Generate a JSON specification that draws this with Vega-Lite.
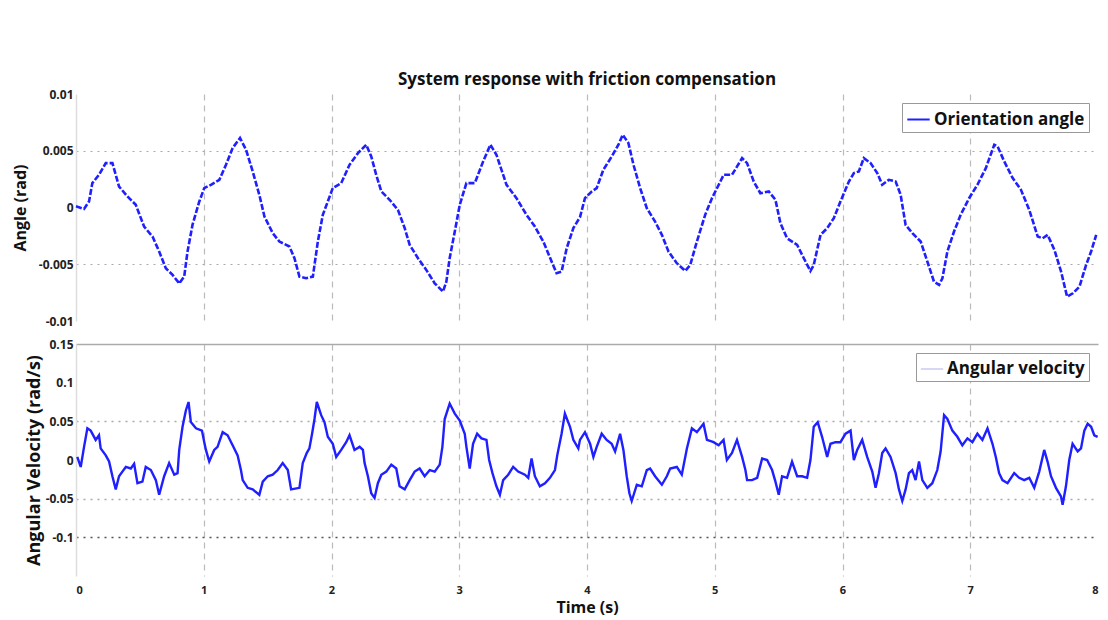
{
  "$schema": "https://vega.github.io/schema/vega-lite/v6.json",
  "background": "white",
  "padding": {"left": 12, "top": 71, "right": 5, "bottom": 2},
  "spacing": 11,
  "config": {
    "font": "Open Sans",
    "view": {"stroke": null},
    "axis": {"labelFont": "Open Sans", "titleFont": "Open Sans", "labelFontWeight": "bold", "titleFontWeight": "bold", "labelColor": "#222", "titleColor": "#111"}
  },
  "datasets": {
    "angle": [
      {"t":0,"v":0.0001},{"t":0.063,"v":-0.00012},{"t":0.102,"v":0.00053},{"t":0.128,"v":0.00215},{"t":0.18,"v":0.00288},{"t":0.233,"v":0.00391},{"t":0.285,"v":0.00391},{"t":0.337,"v":0.00185},{"t":0.403,"v":0.00097},{"t":0.468,"v":0.00024},{"t":0.533,"v":-0.00168},{"t":0.599,"v":-0.00256},{"t":0.651,"v":-0.00388},{"t":0.703,"v":-0.00535},{"t":0.756,"v":-0.00594},{"t":0.808,"v":-0.00668},{"t":0.847,"v":-0.00609},{"t":0.873,"v":-0.00388},{"t":0.912,"v":-0.00153},{"t":0.965,"v":0.00053},{"t":1.004,"v":0.00171},{"t":1.056,"v":0.002},{"t":1.122,"v":0.00244},{"t":1.174,"v":0.00376},{"t":1.226,"v":0.00524},{"t":1.284,"v":0.00612},{"t":1.331,"v":0.00509},{"t":1.383,"v":0.00318},{"t":1.435,"v":0.00112},{"t":1.475,"v":-0.00079},{"t":1.54,"v":-0.00226},{"t":1.592,"v":-0.003},{"t":1.671,"v":-0.00344},{"t":1.71,"v":-0.00447},{"t":1.749,"v":-0.00609},{"t":1.801,"v":-0.00623},{"t":1.854,"v":-0.00609},{"t":1.893,"v":-0.003},{"t":1.932,"v":-0.00065},{"t":1.971,"v":0.00053},{"t":2.01,"v":0.00171},{"t":2.076,"v":0.00215},{"t":2.141,"v":0.00376},{"t":2.207,"v":0.00479},{"t":2.272,"v":0.00553},{"t":2.311,"v":0.0045},{"t":2.35,"v":0.00288},{"t":2.39,"v":0.00141},{"t":2.455,"v":0.00068},{"t":2.52,"v":-0.00021},{"t":2.573,"v":-0.00182},{"t":2.612,"v":-0.00329},{"t":2.677,"v":-0.00447},{"t":2.742,"v":-0.0055},{"t":2.808,"v":-0.00668},{"t":2.873,"v":-0.00741},{"t":2.899,"v":-0.00653},{"t":2.925,"v":-0.00447},{"t":2.965,"v":-0.00212},{"t":3.004,"v":0.00024},{"t":3.056,"v":0.00215},{"t":3.122,"v":0.00215},{"t":3.187,"v":0.00406},{"t":3.244,"v":0.00553},{"t":3.291,"v":0.00465},{"t":3.37,"v":0.002},{"t":3.448,"v":0.00082},{"t":3.527,"v":-0.00065},{"t":3.592,"v":-0.00168},{"t":3.658,"v":-0.003},{"t":3.723,"v":-0.00476},{"t":3.762,"v":-0.00579},{"t":3.801,"v":-0.00565},{"t":3.841,"v":-0.00359},{"t":3.893,"v":-0.00182},{"t":3.945,"v":-0.00085},{"t":3.984,"v":0.00082},{"t":4.037,"v":0.00141},{"t":4.076,"v":0.00171},{"t":4.128,"v":0.00332},{"t":4.194,"v":0.0045},{"t":4.246,"v":0.00553},{"t":4.28,"v":0.00641},{"t":4.324,"v":0.00568},{"t":4.364,"v":0.00376},{"t":4.416,"v":0.00171},{"t":4.468,"v":-0.00006},{"t":4.533,"v":-0.00124},{"t":4.586,"v":-0.00241},{"t":4.638,"v":-0.00388},{"t":4.703,"v":-0.00491},{"t":4.769,"v":-0.00559},{"t":4.808,"v":-0.00506},{"t":4.86,"v":-0.003},{"t":4.925,"v":-0.00065},{"t":4.978,"v":0.00082},{"t":5.044,"v":0.00229},{"t":5.07,"v":0.00288},{"t":5.135,"v":0.00288},{"t":5.175,"v":0.00362},{"t":5.214,"v":0.00435},{"t":5.253,"v":0.00391},{"t":5.305,"v":0.00229},{"t":5.357,"v":0.00126},{"t":5.423,"v":0.00141},{"t":5.475,"v":0.00068},{"t":5.514,"v":-0.00138},{"t":5.566,"v":-0.00271},{"t":5.645,"v":-0.00329},{"t":5.697,"v":-0.00447},{"t":5.749,"v":-0.00559},{"t":5.775,"v":-0.00506},{"t":5.828,"v":-0.00241},{"t":5.88,"v":-0.00182},{"t":5.932,"v":-0.00094},{"t":5.984,"v":0.00053},{"t":6.05,"v":0.00229},{"t":6.089,"v":0.00303},{"t":6.128,"v":0.00318},{"t":6.167,"v":0.00435},{"t":6.22,"v":0.00391},{"t":6.272,"v":0.00303},{"t":6.311,"v":0.002},{"t":6.363,"v":0.00244},{"t":6.416,"v":0.00229},{"t":6.455,"v":0.00112},{"t":6.494,"v":-0.00153},{"t":6.547,"v":-0.00226},{"t":6.612,"v":-0.003},{"t":6.664,"v":-0.00476},{"t":6.716,"v":-0.00653},{"t":6.756,"v":-0.00682},{"t":6.782,"v":-0.00623},{"t":6.821,"v":-0.00388},{"t":6.873,"v":-0.00212},{"t":6.925,"v":-0.00065},{"t":6.991,"v":0.00082},{"t":7.056,"v":0.002},{"t":7.122,"v":0.00347},{"t":7.188,"v":0.00553},{"t":7.214,"v":0.00538},{"t":7.266,"v":0.00406},{"t":7.332,"v":0.00259},{"t":7.397,"v":0.00156},{"t":7.462,"v":-0.00021},{"t":7.528,"v":-0.00256},{"t":7.567,"v":-0.00271},{"t":7.606,"v":-0.00241},{"t":7.659,"v":-0.00374},{"t":7.711,"v":-0.00565},{"t":7.758,"v":-0.00785},{"t":7.803,"v":-0.00756},{"t":7.855,"v":-0.00697},{"t":7.907,"v":-0.00506},{"t":7.946,"v":-0.00388},{"t":7.986,"v":-0.00241}
    ],
    "vel": [
      {"t":0.01,"v":0.004},{"t":0.037,"v":-0.009},{"t":0.063,"v":0.017},{"t":0.089,"v":0.041},{"t":0.115,"v":0.038},{"t":0.154,"v":0.026},{"t":0.18,"v":0.032},{"t":0.193,"v":0.015},{"t":0.233,"v":0.006},{"t":0.259,"v":-0.002},{"t":0.285,"v":-0.021},{"t":0.311,"v":-0.038},{"t":0.337,"v":-0.021},{"t":0.363,"v":-0.015},{"t":0.39,"v":-0.009},{"t":0.429,"v":-0.011},{"t":0.455,"v":-0.005},{"t":0.481,"v":-0.03},{"t":0.52,"v":-0.028},{"t":0.546,"v":-0.009},{"t":0.586,"v":-0.013},{"t":0.625,"v":-0.026},{"t":0.651,"v":-0.045},{"t":0.69,"v":-0.021},{"t":0.729,"v":-0.004},{"t":0.769,"v":-0.019},{"t":0.795,"v":-0.017},{"t":0.808,"v":0.013},{"t":0.834,"v":0.043},{"t":0.86,"v":0.064},{"t":0.881,"v":0.075},{"t":0.899,"v":0.049},{"t":0.939,"v":0.041},{"t":0.986,"v":0.038},{"t":1.004,"v":0.023},{"t":1.017,"v":0.013},{"t":1.043,"v":-0.002},{"t":1.082,"v":0.013},{"t":1.108,"v":0.017},{"t":1.148,"v":0.036},{"t":1.187,"v":0.032},{"t":1.226,"v":0.019},{"t":1.265,"v":0.006},{"t":1.291,"v":-0.013},{"t":1.305,"v":-0.026},{"t":1.344,"v":-0.036},{"t":1.383,"v":-0.038},{"t":1.435,"v":-0.045},{"t":1.462,"v":-0.028},{"t":1.501,"v":-0.021},{"t":1.54,"v":-0.019},{"t":1.579,"v":-0.013},{"t":1.618,"v":-0.004},{"t":1.658,"v":-0.013},{"t":1.684,"v":-0.038},{"t":1.749,"v":-0.036},{"t":1.775,"v":-0.004},{"t":1.806,"v":0.009},{"t":1.827,"v":0.015},{"t":1.848,"v":0.034},{"t":1.867,"v":0.053},{"t":1.885,"v":0.075},{"t":1.919,"v":0.058},{"t":1.945,"v":0.049},{"t":1.971,"v":0.03},{"t":2.01,"v":0.021},{"t":2.037,"v":0.004},{"t":2.076,"v":0.013},{"t":2.115,"v":0.023},{"t":2.141,"v":0.032},{"t":2.18,"v":0.013},{"t":2.22,"v":0.017},{"t":2.246,"v":0.013},{"t":2.259,"v":-0.004},{"t":2.285,"v":-0.021},{"t":2.311,"v":-0.043},{"t":2.337,"v":-0.049},{"t":2.363,"v":-0.03},{"t":2.39,"v":-0.019},{"t":2.429,"v":-0.015},{"t":2.468,"v":-0.006},{"t":2.507,"v":-0.011},{"t":2.533,"v":-0.034},{"t":2.573,"v":-0.038},{"t":2.612,"v":-0.026},{"t":2.651,"v":-0.015},{"t":2.69,"v":-0.011},{"t":2.729,"v":-0.021},{"t":2.769,"v":-0.013},{"t":2.808,"v":-0.015},{"t":2.847,"v":-0.006},{"t":2.868,"v":0.017},{"t":2.886,"v":0.053},{"t":2.925,"v":0.073},{"t":2.965,"v":0.06},{"t":3.004,"v":0.051},{"t":3.043,"v":0.034},{"t":3.056,"v":0.017},{"t":3.082,"v":-0.011},{"t":3.108,"v":0.021},{"t":3.14,"v":0.034},{"t":3.174,"v":0.028},{"t":3.213,"v":0.026},{"t":3.234,"v":0},{"t":3.26,"v":-0.017},{"t":3.291,"v":-0.034},{"t":3.318,"v":-0.045},{"t":3.344,"v":-0.026},{"t":3.383,"v":-0.019},{"t":3.422,"v":-0.009},{"t":3.461,"v":-0.015},{"t":3.514,"v":-0.019},{"t":3.54,"v":-0.023},{"t":3.566,"v":0.002},{"t":3.592,"v":-0.021},{"t":3.631,"v":-0.034},{"t":3.671,"v":-0.03},{"t":3.71,"v":-0.023},{"t":3.749,"v":-0.013},{"t":3.767,"v":0.006},{"t":3.801,"v":0.034},{"t":3.827,"v":0.06},{"t":3.867,"v":0.043},{"t":3.893,"v":0.026},{"t":3.932,"v":0.015},
      {"t":3.945,"v":0.026},{"t":3.984,"v":0.036},{"t":4.024,"v":0.021},{"t":4.05,"v":0.004},{"t":4.076,"v":0.017},{"t":4.115,"v":0.034},{"t":4.154,"v":0.026},{"t":4.193,"v":0.021},{"t":4.22,"v":0.011},{"t":4.259,"v":0.034},{"t":4.285,"v":0.013},{"t":4.311,"v":-0.021},{"t":4.332,"v":-0.043},{"t":4.35,"v":-0.053},{"t":4.39,"v":-0.032},{"t":4.429,"v":-0.034},{"t":4.468,"v":-0.013},{"t":4.494,"v":-0.011},{"t":4.533,"v":-0.021},{"t":4.586,"v":-0.032},{"t":4.625,"v":-0.021},{"t":4.651,"v":-0.011},{"t":4.703,"v":-0.009},{"t":4.742,"v":-0.019},{"t":4.782,"v":0.015},{"t":4.821,"v":0.041},{"t":4.86,"v":0.036},{"t":4.912,"v":0.047},{"t":4.939,"v":0.026},{"t":4.991,"v":0.023},{"t":5.03,"v":0.019},{"t":5.069,"v":0.026},{"t":5.095,"v":0},{"t":5.135,"v":0.009},{"t":5.174,"v":0.026},{"t":5.214,"v":0.004},{"t":5.24,"v":-0.013},{"t":5.253,"v":-0.026},{"t":5.292,"v":-0.026},{"t":5.332,"v":-0.023},{"t":5.371,"v":0.002},{"t":5.41,"v":0},{"t":5.449,"v":-0.013},{"t":5.475,"v":-0.028},{"t":5.501,"v":-0.045},{"t":5.527,"v":-0.021},{"t":5.566,"v":-0.023},{"t":5.605,"v":-0.002},{"t":5.645,"v":-0.021},{"t":5.684,"v":-0.021},{"t":5.723,"v":-0.023},{"t":5.749,"v":0},{"t":5.775,"v":0.043},{"t":5.806,"v":0.049},{"t":5.84,"v":0.03},{"t":5.88,"v":0.004},{"t":5.906,"v":0.021},{"t":5.945,"v":0.023},{"t":5.984,"v":0.023},{"t":6.024,"v":0.034},{"t":6.063,"v":0.038},{"t":6.089,"v":0},{"t":6.115,"v":0.013},{"t":6.154,"v":0.026},{"t":6.193,"v":0.004},{"t":6.233,"v":-0.015},{"t":6.259,"v":-0.036},{"t":6.285,"v":-0.017},{"t":6.311,"v":0.009},{"t":6.337,"v":0.015},{"t":6.376,"v":0.004},{"t":6.416,"v":-0.017},{"t":6.442,"v":-0.038},{"t":6.468,"v":-0.053},{"t":6.494,"v":-0.038},{"t":6.52,"v":-0.017},{"t":6.546,"v":-0.013},{"t":6.572,"v":-0.026},{"t":6.599,"v":-0.002},{"t":6.625,"v":-0.026},{"t":6.664,"v":-0.036},{"t":6.703,"v":-0.03},{"t":6.742,"v":-0.013},{"t":6.768,"v":0.011},{"t":6.795,"v":0.058},{"t":6.821,"v":0.053},{"t":6.86,"v":0.038},{"t":6.899,"v":0.03},{"t":6.938,"v":0.019},{"t":6.978,"v":0.028},{"t":7.017,"v":0.023},{"t":7.056,"v":0.034},{"t":7.095,"v":0.026},{"t":7.135,"v":0.041},{"t":7.174,"v":0.021},{"t":7.2,"v":0.004},{"t":7.226,"v":-0.017},{"t":7.252,"v":-0.026},{"t":7.292,"v":-0.03},{"t":7.344,"v":-0.017},{"t":7.383,"v":-0.023},{"t":7.422,"v":-0.026},{"t":7.462,"v":-0.023},{"t":7.501,"v":-0.036},{"t":7.54,"v":-0.015},{"t":7.579,"v":0.013},{"t":7.605,"v":-0.002},{"t":7.632,"v":-0.021},{"t":7.671,"v":-0.036},{"t":7.71,"v":-0.047},{"t":7.723,"v":-0.058},{"t":7.749,"v":-0.034},{"t":7.775,"v":0},{"t":7.801,"v":0.021},{"t":7.841,"v":0.011},{"t":7.867,"v":0.015},{"t":7.893,"v":0.038},{"t":7.919,"v":0.047},{"t":7.946,"v":0.043},{"t":7.971,"v":0.032},{"t":7.997,"v":0.03}
    ]
  },
  "vconcat": [
    {
      "width": 1022,
      "height": 227,
      "title": {"text": "System response with friction compensation", "fontSize": 17, "fontWeight": "bold", "font": "Open Sans", "color": "#111", "frame": "group", "anchor": "middle", "offset": -1},
      "data": {"name": "angle"},
      "transform": [{"calculate": "'Orientation angle'", "as": "series"}],
      "mark": {"type": "line", "strokeWidth": 2.6, "strokeDash": [6, 2]},
      "encoding": {
        "x": {"field": "t", "type": "quantitative", "scale": {"domain": [0, 8], "nice": false},
          "axis": {"title": null, "labels": false, "ticks": false, "domain": false, "values": [1,2,3,4,5,6,7], "grid": true, "gridColor": "#bbb", "gridDash": [6, 5], "gridWidth": 1.2}},
        "y": {"field": "v", "type": "quantitative", "scale": {"domain": [-0.01, 0.01], "nice": false},
          "axis": {"title": "Angle (rad)", "titleFontSize": 16, "titlePadding": 10, "labelFontSize": 12, "labelPadding": 3, "ticks": false, "domainColor": "#ddd", "domainWidth": 1.5,
            "values": [-0.01, -0.005, 0, 0.005, 0.01], "labelExpr": "'' + datum.value",
            "grid": true, "gridColor": "#aaa", "gridDash": [2, 5], "gridWidth": 1.2,
            "gridOpacity": {"condition": {"test": "abs(datum.value) == 0.005", "value": 1}, "value": 0}}},
        "color": {"field": "series", "type": "nominal", "scale": {"range": ["#1f1fff"]},
          "legend": {"title": null, "orient": "top-right", "offset": 9, "strokeColor": "#999", "fillColor": "white", "padding": 4, "labelFontSize": 17, "labelFontWeight": "bold", "labelColor": "#111", "labelFont": "Open Sans", "symbolType": "stroke", "symbolSize": 500, "symbolStrokeWidth": 2, "labelOffset": 3}}
      }
    },
    {
      "width": 1022,
      "height": 232,
      "data": {"name": "vel"},
      "encoding": {
        "x": {"field": "t", "type": "quantitative", "scale": {"domain": [0, 8], "nice": false},
          "axis": {"title": "Time (s)", "titleFontSize": 16, "titlePadding": 4, "labelFontSize": 11, "labelPadding": 8, "ticks": false, "domain": false, "values": [0,1,2,3,4,5,6,7,8], "labelExpr": "'' + datum.value",
            "grid": true, "gridColor": "#bbb", "gridDash": [6, 5], "gridWidth": 1.2,
            "gridOpacity": {"condition": {"test": "datum.value == 0 || datum.value == 8", "value": 0}, "value": 1}}},
        "y": {"field": "v", "type": "quantitative", "scale": {"domain": [-0.15, 0.15], "nice": false},
          "axis": {"title": "Angular Velocity (rad/s)", "titleFontSize": 18, "titlePadding": 2, "labelFontSize": 12, "labelPadding": 3, "ticks": false, "domainColor": "#ddd", "domainWidth": 1.5,
            "values": [-0.1, -0.05, 0, 0.05, 0.1, 0.15], "labelExpr": "'' + datum.value",
            "grid": true, "gridWidth": 1.3,
            "gridColor": {"condition": {"test": "datum.value == -0.1", "value": "#555"}, "value": "#aaa"},
            "gridDash": {"condition": {"test": "datum.value == 0.15", "value": []}, "value": [2, 5]},
            "gridOpacity": {"condition": {"test": "datum.value == 0 || datum.value == 0.1", "value": 0}, "value": 1}}}
      },
      "layer": [
        {"mark": {"type": "line", "strokeWidth": 2.4, "color": "#1f1fff"}},
        {
          "transform": [{"filter": "datum.t < 0"}],
          "mark": {"type": "line", "strokeWidth": 1.5},
          "encoding": {
            "color": {"datum": "Angular velocity", "type": "nominal", "scale": {"domain": ["Angular velocity"], "range": ["#c8c8f4"]},
              "legend": {"title": null, "orient": "top-right", "offset": 9, "strokeColor": "#999", "fillColor": "white", "padding": 4, "labelFontSize": 17, "labelFontWeight": "bold", "labelColor": "#111", "labelFont": "Open Sans", "symbolType": "stroke", "symbolSize": 500, "symbolStrokeWidth": 1.5, "labelOffset": 3}}
          }
        }
      ],
      "resolve": {"scale": {"color": "independent"}}
    }
  ],
  "resolve": {"scale": {"color": "independent"}}
}
